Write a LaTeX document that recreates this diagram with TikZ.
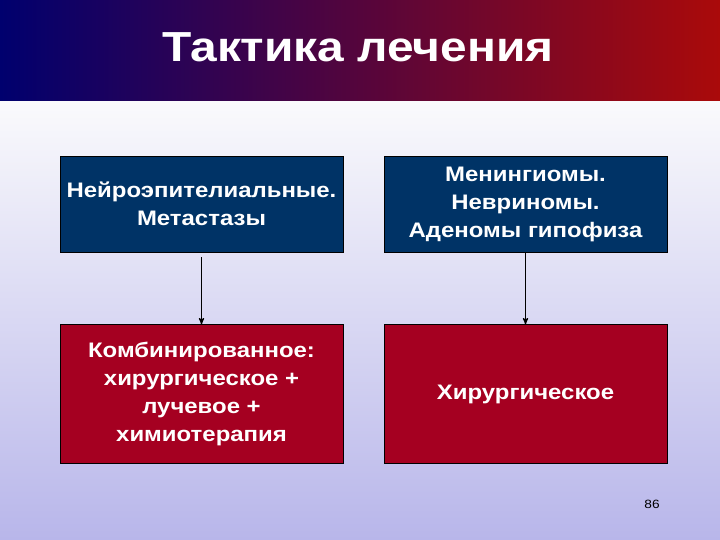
\documentclass[tikz,border=0pt]{standalone}
\usepackage{fontspec}
\setmainfont{Liberation Sans}[FakeStretch=1.14]
\usetikzlibrary{
        arrows,
        positioning
    }
\definecolor{navyleft}{RGB}{0,0,110}
\definecolor{plummid}{RGB}{105,10,90}
\definecolor{redright}{RGB}{170,10,10}
\definecolor{bgtop}{RGB}{250,250,252}
\definecolor{bgbottom}{RGB}{184,182,234}
\definecolor{boxblue}{RGB}{0,51,102}
\definecolor{boxred}{RGB}{165,0,33}
\tikzset{>=stealth',node distance=72pt}
\tikzset{
    boxtext/.style={font=\fontsize{21}{28}\selectfont\bfseries,
        text=white, align=center, inner sep=0pt, draw=black, line width=0.8pt},
    groupbox/.style={boxtext, fill=boxblue, minimum width=283pt, minimum height=96pt},
    therapybox/.style={boxtext, fill=boxred, minimum width=283pt, minimum height=139pt}
}

\begin{document}
\begin{tikzpicture}[x=1pt,y=-1pt]
    \useasboundingbox (0,0) rectangle (720,540);
    \shade[top color=bgtop, bottom color=bgbottom] (0,101) rectangle (720,540);
    \shade[left color=navyleft, middle color=plummid, right color=redright] (0,0) rectangle (720,101);
    \node[anchor=base, text=white, font=\fontsize{42}{50}\selectfont\bfseries] (title) at (358,62) {Тактика лечения};

    \node[groupbox] (neuro) at (201.5,204) {Нейроэпителиальные.\\Метастазы};
    \node[groupbox] (mening) at (525.5,204) {Менингиомы.\\Невриномы.\\Аденомы гипофиза};
    \node[therapybox] (combined) [below=of neuro] {Комбинированное:\\хирургическое +\\лучевое +\\химиотерапия};
    \node[therapybox] (surgery) [below=of mening] {Хирургическое};

    \path[->, line width=1.2pt] (neuro) edge [shorten <=5pt] (combined)
        (mening) edge (surgery);

    \node[font=\fontsize{12}{14}\selectfont] (pagenum) at (652,504) {86};
\end{tikzpicture}
\end{document}
